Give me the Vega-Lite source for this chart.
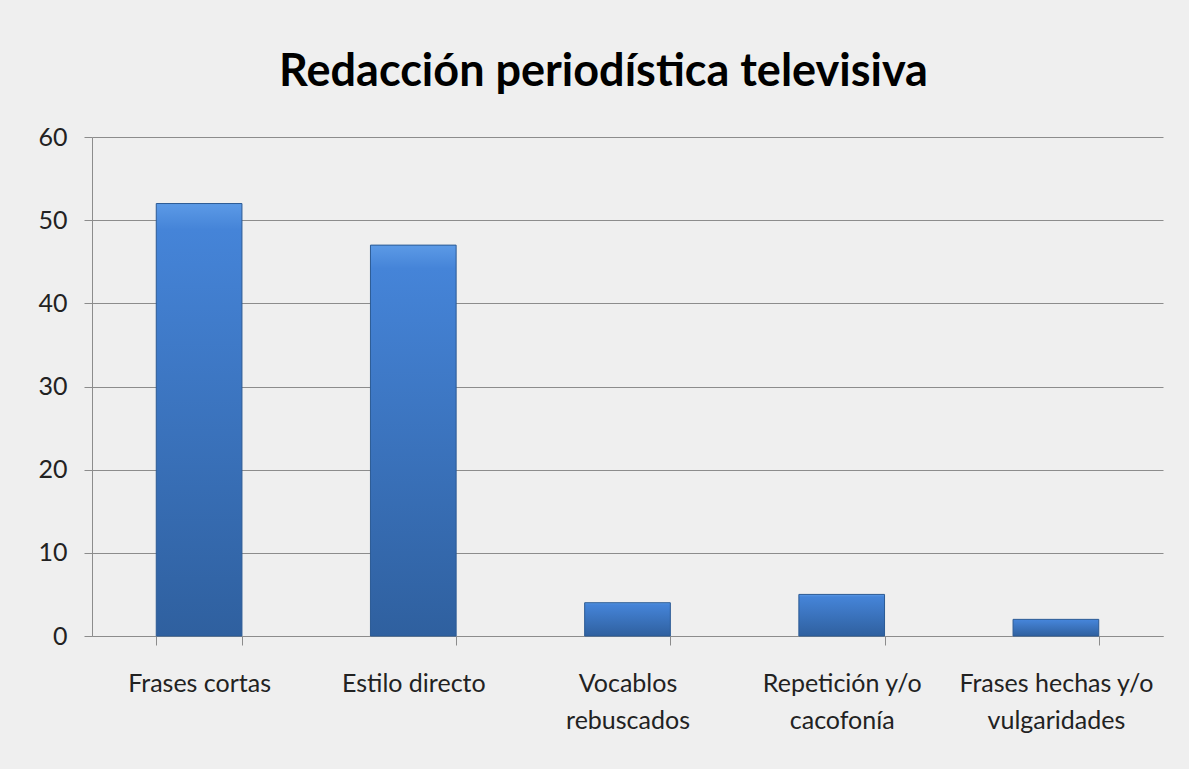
{
  "$schema": "https://vega.github.io/schema/vega-lite/v6.json",
  "autosize": {"type": "none"},
  "width": 1071,
  "height": 499,
  "padding": {"left": 92, "top": 137, "right": 26, "bottom": 133},
  "background": "#efefef",
  "title": {
    "text": "Redacción periodística televisiva",
    "font": "Lato",
    "fontSize": 45,
    "fontWeight": "bold",
    "color": "#000000",
    "anchor": "middle",
    "dx": -24,
    "offset": 30
  },
  "data": {
    "values": [
      {"categoria": "Frases cortas", "valor": 52},
      {"categoria": "Estilo directo", "valor": 47},
      {"categoria": "Vocablos rebuscados", "valor": 4},
      {"categoria": "Repetición y/o cacofonía", "valor": 5},
      {"categoria": "Frases hechas y/o vulgaridades", "valor": 2}
    ]
  },
  "mark": {
    "type": "bar",
    "stroke": "#2b5a94",
    "strokeWidth": 1,
    "color": {
      "gradient": "linear",
      "x1": 0, "y1": 0, "x2": 0, "y2": 1,
      "stops": [
        {"offset": 0, "color": "#5c9ae6"},
        {"offset": 0.06, "color": "#4584d8"},
        {"offset": 1, "color": "#2f609f"}
      ]
    }
  },
  "encoding": {
    "x": {
      "field": "categoria",
      "type": "nominal",
      "sort": null,
      "title": null,
      "scale": {"paddingInner": 0.6, "paddingOuter": 0.3},
      "axis": {
        "labelAngle": 0,
        "labelFont": "Lato",
        "labelFontSize": 25,
        "labelColor": "#222222",
        "labelLineHeight": 37,
        "labelPadding": 26,
        "labelBaseline": "top",
        "labelLimit": 0,
        "labelOverlap": false,
        "tickBand": "extent",
        "tickSize": 9,
        "tickColor": "#8c8c8c",
        "domainColor": "#8c8c8c",
        "labelExpr": "datum.value == 'Vocablos rebuscados' ? ['Vocablos', 'rebuscados'] : datum.value == 'Repetición y/o cacofonía' ? ['Repetición y/o', 'cacofonía'] : datum.value == 'Frases hechas y/o vulgaridades' ? ['Frases hechas y/o', 'vulgaridades'] : datum.value"
      }
    },
    "y": {
      "field": "valor",
      "type": "quantitative",
      "title": null,
      "scale": {"domain": [0, 60]},
      "axis": {
        "values": [0, 10, 20, 30, 40, 50, 60],
        "labelFont": "Lato",
        "labelFontSize": 25,
        "labelColor": "#222222",
        "labelPadding": 17,
        "tickSize": 8,
        "tickColor": "#8c8c8c",
        "domainColor": "#8c8c8c",
        "grid": true,
        "gridColor": "#8c8c8c",
        "gridWidth": 1
      }
    }
  },
  "config": {
    "view": {"stroke": null}
  }
}
